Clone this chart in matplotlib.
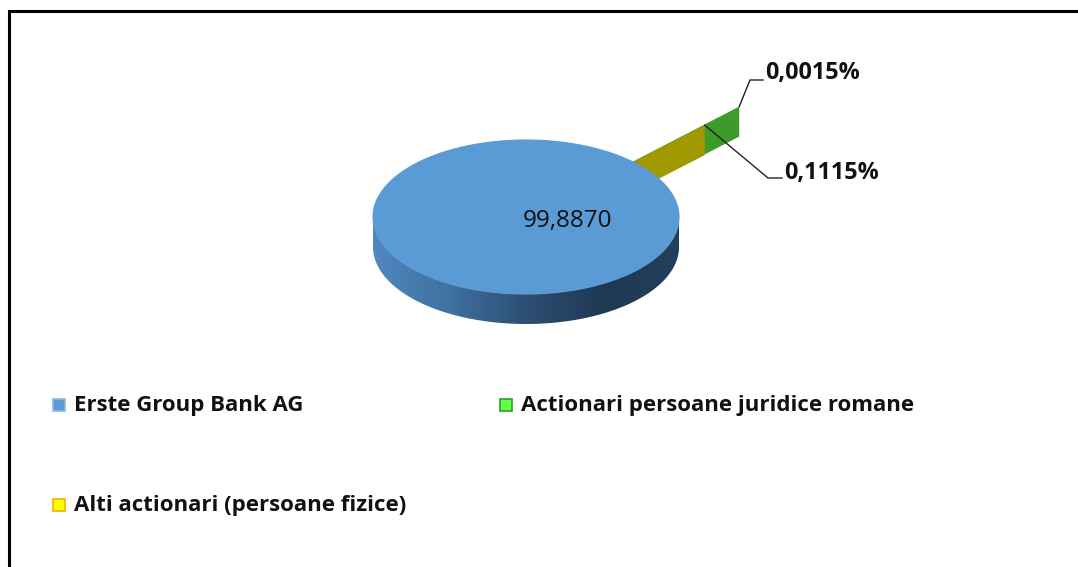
import numpy as np
import matplotlib
matplotlib.use("Agg")
import matplotlib.pyplot as plt
from matplotlib.patches import Polygon, Rectangle
from matplotlib.colors import LinearSegmentedColormap

# ---- data ----
categories = ["Erste Group Bank AG",
              "Actionari persoane juridice romane",
              "Alti actionari (persoane fizice)"]
values = [99.8870, 0.0015, 0.1115]
value_labels = ["99,8870", "0,0015%", "0,1115%"]

# ---- style ----
top_colors = ["#5b9bd5", "#3d9b2a", "#a09a00"]
legend_face = ["#5b9bd5", "#66ff44", "#ffff00"]
legend_edge = ["#8fbbe6", "#2e9e2e", "#f0b400"]
explode = [0.0, 1.0, 0.67]
start_angle = 45.42          # degrees, slices go clockwise
cx, cy, rx, ry, depth = 526, 217, 153, 77, 30

W, H = 1078, 567
fig = plt.figure(figsize=(W / 100, H / 100), dpi=100)
ax = fig.add_axes([0, 0, 1, 1])
ax.set_xlim(0, W)
ax.set_ylim(H, 0)
ax.axis("off")
FONT = "Open Sans"


def pt(r, ang, dy=0.0):
    a = np.deg2rad(ang)
    return (cx + r * rx * np.cos(a), cy - r * ry * np.sin(a) + dy)


# slice angles (clockwise)
total = sum(values)
angles = []
a0 = start_angle
for v in values:
    a1 = a0 - 360.0 * v / total
    angles.append((a0, a1))
    a0 = a1

# thin slices: exploded radial walls (green first, yellow in front)
outer_pts = {}
for i in [1, 2]:
    a_s, a_e = angles[i]
    mid = 0.5 * (a_s + a_e)
    e = explode[i]
    p_in = pt(e, mid)
    p_out = pt(e + 1.0, mid)
    poly = [p_in, p_out, (p_out[0], p_out[1] + depth), (p_in[0], p_in[1] + depth)]
    ax.add_patch(Polygon(poly, closed=True, facecolor=top_colors[i],
                         edgecolor="none", zorder=2 + i * 0.1))
    outer_pts[i] = p_out

# main slice: side (front visible arc) with gradient
a_s, a_e = angles[0]
th = np.linspace(180, 360, 200)
top_arc = [pt(1, t) for t in th]
bot_arc = [pt(1, t, depth) for t in th[::-1]]
side = Polygon(top_arc + bot_arc, closed=True, facecolor="none", edgecolor="none")
ax.add_patch(side)
cmap = LinearSegmentedColormap.from_list(
    "side", ["#5088c0", "#40719f", "#2c4f73", "#1f3853", "#22405d"])
grad = np.linspace(0, 1, 256).reshape(1, -1)
im = ax.imshow(grad, cmap=cmap, extent=(cx - rx, cx + rx, cy + depth + ry + 2, cy - 2),
               aspect="auto", zorder=3, interpolation="bilinear")
im.set_clip_path(side)
ax.set_xlim(0, W)
ax.set_ylim(H, 0)

# main slice top face
th = np.linspace(a_s, a_e, 400)
top = [(cx, cy)] + [pt(1, t) for t in th]
ax.add_patch(Polygon(top, closed=True, facecolor=top_colors[0],
                     edgecolor=top_colors[0], lw=0.8, zorder=4))

# labels
ax.text(567, 221, value_labels[0], ha="center", va="center", fontsize=17.5,
        family=FONT, color="#111111", zorder=6)

# leader lines
g = outer_pts[1]
ax.plot([g[0], 750, 763], [g[1], 80, 80], color="#222222", lw=1.0, zorder=6)
ax.text(765, 73, value_labels[1], ha="left", va="center", fontsize=16.8,
        family=FONT, fontweight="bold", color="#111111", zorder=6)
y = outer_pts[2]
ax.plot([y[0], 768, 782], [y[1], 178, 178], color="#222222", lw=1.0, zorder=6)
ax.text(784, 173, value_labels[2], ha="left", va="center", fontsize=16.8,
        family=FONT, fontweight="bold", color="#111111", zorder=6)

# legend
leg_pos = [(53, 399), (500, 399), (53, 499)]
for i, (lx, ly) in enumerate(leg_pos):
    ax.add_patch(Rectangle((lx, ly), 12, 12, facecolor=legend_face[i],
                           edgecolor=legend_edge[i], lw=1.2, zorder=6))
    ax.text(lx + 21, ly + 6, categories[i], ha="left", va="center",
            fontsize=16, family=FONT, fontweight="bold", color="#111111",
            zorder=6)

# frame (top and left only visible)
ax.plot([9, 9, W], [H, 11, 11], color="black", lw=2.2, zorder=7,
        solid_joinstyle="miter")

fig.savefig("out.png", dpi=100)
